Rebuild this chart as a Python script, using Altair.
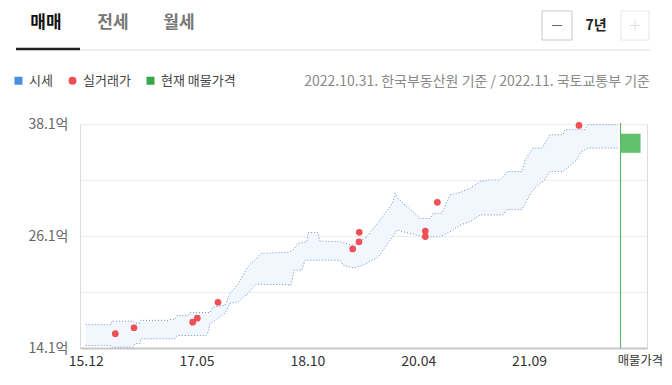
import altair as alt
import pandas as pd

FONT = "Noto Sans CJK KR"

# ---- data (months since 2015.12, prices in 억) ----
months = [0, 3.9, 4.0, 7.25, 7.56, 8.33, 8.48, 12.62, 12.93, 13.7, 14.01, 15.69, 16.0, 18.45, 18.76,
          19.07, 19.52, 21.36, 22.13, 23.36, 24.89, 26.12, 26.89, 31.18, 31.49, 31.95, 32.56, 33.17,
          33.63, 33.94, 34.1, 35.63, 35.94, 39.0, 39.46, 40.84, 41.3, 41.76, 42.53, 43.14, 43.91,
          44.68, 45.14, 45.6, 46.67, 47.13, 47.44, 47.75, 48.67, 50.2, 51.27, 51.58, 52.81, 53.27,
          54.34, 54.65, 55.87, 57.41, 58.94, 60.48, 62.0, 63.54, 64.0, 64.61, 66.9, 67.38, 67.68,
          68.6, 69.98, 70.14, 71.2, 73.2, 73.51, 73.82, 75.35, 75.81, 76.58, 77.04, 81.64]
upper = [16.60, 16.60, 16.98, 16.98, 16.77, 16.77, 17.06, 17.06, 17.16, 17.16, 17.59, 17.59, 17.89,
         17.89, 17.89, 17.89, 18.49, 18.67, 19.96, 20.93, 22.86, 23.62, 24.23, 24.37, 24.48, 24.69,
         25.31, 25.39, 25.44, 25.48, 26.47, 26.47, 25.55, 25.48, 25.39, 25.12, 25.23, 25.48, 25.77,
         26.01, 26.74, 27.38, 27.81, 28.24, 29.24, 29.75, 30.68, 30.28, 29.61, 28.70, 27.99, 27.99,
         27.99, 28.53, 28.53, 28.56, 30.50, 30.77, 31.22, 31.93, 32.11, 32.11, 32.43, 33.00, 33.00,
         34.26, 34.58, 35.52, 35.52, 35.66, 36.95, 36.95, 37.49, 37.49, 37.49, 37.49, 37.49, 38.03,
         38.03]
lower = [14.37, 14.37, 14.19, 14.19, 14.58, 14.58, 15.09, 15.09, 15.09, 15.09, 15.44, 15.44, 15.44,
         15.44, 15.80, 16.70, 16.90, 17.81, 18.89, 19.02, 19.96, 20.93, 20.93, 20.87, 20.82, 22.43,
         22.43, 22.43, 23.51, 23.51, 23.51, 23.51, 23.51, 23.51, 22.97, 22.72, 22.68, 22.81, 22.97,
         23.19, 23.51, 23.72, 24.05, 24.58, 25.66, 26.01, 26.41, 26.74, 26.55, 26.31, 26.09, 26.01,
         26.01, 26.01, 26.01, 26.14, 26.55, 27.27, 27.63, 28.35, 28.35, 28.35, 28.35, 28.96, 28.94,
         29.53, 29.96, 31.04, 31.90, 31.93, 33.00, 33.00, 33.19, 33.37, 34.26, 34.98, 35.34, 35.52,
         35.52]

deal_months = [4.54, 7.41, 16.41, 17.12, 20.29, 40.95, 41.92, 41.96, 52.09, 52.09, 53.93, 75.66]
deal_prices = [15.63, 16.27, 16.87, 17.30, 18.99, 24.72, 25.48, 26.49, 26.63, 26.04, 29.71, 37.95]

ask_month = [82.04]
ask_month_end = [85.1]
ask_low = [35.01]
ask_high = [37.06]

x_ticks = [0, 17, 34, 51, 68, 85]
x_labels = ["15.12", "17.05", "18.10", "20.04", "21.09", "매물가격"]
y_grid = [14.1, 20.1, 26.1, 32.1, 38.1]
y_labeled = [14.1, 26.1, 38.1]

legend_names = ["시세", "실거래가", "현재 매물가격"]
legend_colors = ["#4a90e2", "#ef4f55", "#3aa64a"]
legend_shapes = ["square", "circle", "square"]

tabs = ["매매", "전세", "월세"]
period = "7년"
source_note = "2022.10.31. 한국부동산원 기준 / 2022.11. 국토교통부 기준"

# ---- frames ----
band = pd.DataFrame({"t": months, "upper": upper, "lower": lower})
deals = pd.DataFrame({"t": deal_months, "price": deal_prices, "구분": ["실거래가"] * len(deal_months)})
ask = pd.DataFrame({"t": ask_month, "t2": ask_month_end, "lo": ask_low, "hi": ask_high})
one = pd.DataFrame({"k": [0]})

W, H = 567, 224

xlabel_expr = " : ".join(
    f"abs(datum.value - {v}) < 0.01 ? '{l}'" for v, l in zip(x_ticks, x_labels)
) + " : ''"
ylabel_expr = " : ".join(
    f"abs(datum.value - {v}) < 0.01 ? '{v}억'" for v in y_labeled
) + " : ''"

xs = alt.Scale(domain=[-0.874, 86.09], nice=False, zero=False)
ys = alt.Scale(domain=[14.1, 38.1], nice=False, zero=False)

x_axis = alt.Axis(values=x_ticks, labelExpr=xlabel_expr, grid=False, ticks=False,
                  domain=True, domainColor="#c8c8c8", domainWidth=2, labelFont=FONT,
                  labelFontSize={"condition": {"test": "datum.value > 80", "value": 12.3},
                                 "value": 14},
                  labelColor="#333", labelPadding=6, title=None, labelFlush=False)
y_axis = alt.Axis(values=y_grid, labelExpr=ylabel_expr, grid=True, gridColor="#ececec",
                  ticks=False, domain=False, labelFont=FONT, labelFontSize=14,
                  labelColor="#666", labelPadding=12, title=None)

area = alt.Chart(band).mark_area(color="#f1f7fd", opacity=1).encode(
    x=alt.X("t:Q", scale=xs, axis=x_axis),
    y=alt.Y("upper:Q", scale=ys, axis=y_axis),
    y2="lower:Q",
)
up_line = alt.Chart(band).mark_line(color="#6a90c8", strokeWidth=1, strokeDash=[1, 2]).encode(
    x=alt.X("t:Q", scale=xs), y=alt.Y("upper:Q", scale=ys))
lo_line = alt.Chart(band).mark_line(color="#6a90c8", strokeWidth=1, strokeDash=[1, 2]).encode(
    x=alt.X("t:Q", scale=xs), y=alt.Y("lower:Q", scale=ys))

leg = dict(orient="none", legendX=-68, legendY=-50, direction="horizontal", title=None,
           labelFont=FONT, labelFontSize=13, labelColor="#444", symbolSize=64,
           columnPadding=13, labelOffset=4, symbolStrokeWidth=0)

points = alt.Chart(deals).mark_point(filled=True, size=45, opacity=1).encode(
    x=alt.X("t:Q", scale=xs),
    y=alt.Y("price:Q", scale=ys),
    color=alt.Color("구분:N", scale=alt.Scale(domain=legend_names, range=legend_colors),
                    legend=alt.Legend(**leg)),
    shape=alt.Shape("구분:N", scale=alt.Scale(domain=legend_names, range=legend_shapes),
                    legend=alt.Legend(**leg)),
)

ask_rule = alt.Chart(ask).mark_rule(color="#4caf50", strokeWidth=1).encode(
    x=alt.X("t:Q", scale=xs), y=alt.value(-1), y2=alt.value(H))
ask_rect = alt.Chart(ask).mark_rect(color="#63c06c").encode(
    x=alt.X("t:Q", scale=xs), x2="t2:Q",
    y=alt.Y("hi:Q", scale=ys), y2="lo:Q")

# ---- header decorations ----
def txt(x, y, s, size=14, color="#333", weight="normal", align="center"):
    return alt.Chart(one).mark_text(font=FONT, fontSize=size, color=color, fontWeight=weight,
                                    align=align, baseline="middle").encode(
        x=alt.value(x), y=alt.value(y), text=alt.value(s))

def rule(x, x2, y, y2, color, w=1):
    return alt.Chart(one).mark_rule(color=color, strokeWidth=w).encode(
        x=alt.value(x), x2=alt.value(x2), y=alt.value(y), y2=alt.value(y2))

def box(x, x2, y, y2, stroke):
    return alt.Chart(one).mark_rect(fill="white", stroke=stroke, strokeWidth=1).encode(
        x=alt.value(x), x2=alt.value(x2), y=alt.value(y), y2=alt.value(y2))

deco = [
    txt(-34, -101, tabs[0], size=17, color="#111", weight="bold"),
    txt(33, -101, tabs[1], size=17, color="#777", weight="bold"),
    txt(99, -101, tabs[2], size=17, color="#777", weight="bold"),
    rule(0, 570, -74, -74, "#dddddd", 1),
    rule(-64, 0, -75, -75, "#222222", 2.5),
    box(462, 492, -113, -84, "#c8c8c8"),
    rule(472, 482, -98.5, -98.5, "#666666", 1),
    txt(516, -98, period, size=14, color="#222", weight="bold"),
    box(541, 569, -113, -84, "#e6e6e6"),
    rule(550, 560, -98.5, -98.5, "#dddddd", 1),
    rule(555, 555, -103.5, -93.5, "#dddddd", 1),
    txt(570, -42, source_note, size=14, color="#8a8a8a", align="right"),
]

chart = alt.layer(area, up_line, lo_line, points, ask_rule, ask_rect, *deco).properties(
    width=W, height=H,
    autosize=alt.AutoSizeParams(type="none"),
    padding={"left": 72, "top": 116, "right": 17, "bottom": 28},
).configure_view(stroke=None).configure(font=FONT)

chart.save("out.html", embed_options={"renderer": "svg", "actions": False})
